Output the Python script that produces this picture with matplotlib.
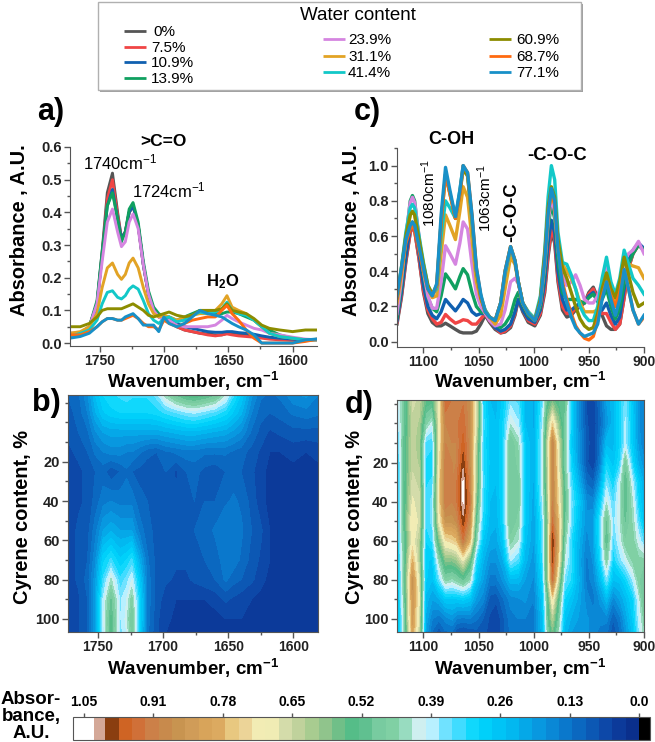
import numpy as np
import matplotlib
matplotlib.use('Agg')
import matplotlib.pyplot as plt
from matplotlib.colors import ListedColormap, BoundaryNorm
from matplotlib.patches import Rectangle
from matplotlib.ticker import MultipleLocator

plt.rcParams['font.family'] = ['Liberation Sans', 'DejaVu Sans']
plt.rcParams['mathtext.fontset'] = 'custom'
plt.rcParams['mathtext.rm'] = 'Liberation Sans'
plt.rcParams['mathtext.bf'] = 'Liberation Sans:bold'
plt.rcParams['mathtext.default'] = 'regular'

W, H = 655, 742

# legend
water = ['0%', '7.5%', '10.9%', '13.9%', '23.9%', '31.1%', '41.4%', '60.9%', '68.7%', '77.1%']
line_colors = ['#555555', '#f04545', '#1060b0', '#10a060', '#d585e0', '#e2a325', '#12c8c8',
               '#8c8c00', '#ff6a10', '#1890c8']

# panel a
a_wn = [1773, 1765, 1758, 1752, 1748, 1744, 1740, 1736, 1733, 1730, 1727, 1724,
        1720, 1716, 1712, 1708, 1704, 1700, 1696, 1690, 1684, 1678, 1672,
        1666, 1660, 1655, 1651, 1647, 1642, 1636, 1630, 1624, 1618, 1610, 1600, 1590, 1581]
a_0 = [.03, .03, .05, .12, .28, .46, .52, .40, .32, .34, .40, .42,
       .36, .24, .15, .10, .08, .08, .07, .05, .04, .035, .03,
       .028, .025, .025, .03, .03, .028, .025, .02, .018, .015, .012, .01, .01, .01]
a_7 = [.03, .025, .05, .12, .27, .44, .50, .39, .32, .34, .40, .42,
       .36, .24, .15, .10, .08, .08, .07, .05, .04, .035, .03,
       .025, .022, .025, .028, .025, .022, .02, .018, .015, .012, .01, .008, .008, .012]
a_10 = [.02, .025, .05, .12, .27, .42, .47, .38, .32, .34, .40, .42,
        .36, .24, .15, .10, .08, .08, .07, .06, .05, .045, .04,
        .035, .033, .033, .035, .035, .032, .03, .027, .022, .018, .015, .012, .01, .01]
a_13 = [.02, .03, .05, .13, .28, .42, .46, .38, .31, .34, .41, .43,
        .37, .25, .16, .11, .09, .08, .08, .07, .08, .09, .10,
        .095, .09, .09, .095, .095, .09, .08, .07, .05, .04, .025, .015, .01, .01]
a_23 = [.03, .03, .05, .12, .25, .37, .41, .34, .295, .31, .37, .395,
        .35, .24, .15, .10, .08, .07, .07, .055, .05, .05, .05,
        .05, .055, .07, .085, .075, .065, .055, .045, .04, .03, .025, .018, .012, .01]
a_31 = [.03, .035, .05, .09, .17, .23, .245, .21, .195, .21, .245, .26,
        .23, .17, .12, .09, .08, .085, .08, .07, .08, .085, .09,
        .09, .10, .12, .145, .11, .10, .09, .07, .05, .03, .02, .015, .01, .01]
a_41 = [.02, .03, .04, .07, .12, .155, .16, .14, .135, .145, .165, .175,
        .165, .13, .09, .07, .06, .075, .08, .065, .07, .085, .095,
        .09, .095, .105, .125, .10, .09, .085, .07, .05, .03, .02, .015, .01, .012]
a_60 = [.05, .05, .06, .08, .10, .105, .105, .105, .105, .11, .115, .12,
        .11, .10, .085, .08, .085, .09, .095, .085, .08, .085, .10,
        .10, .10, .105, .12, .10, .095, .09, .075, .055, .045, .04, .035, .04, .04]
a_68 = [.025, .025, .035, .05, .065, .075, .075, .07, .07, .075, .08, .085,
        .075, .06, .05, .05, .04, .07, .06, .05, .06, .07, .075,
        .08, .08, .10, .115, .09, .07, .04, .015, 0, 0, 0, 0, .005, .012]
a_77 = [.015, .02, .03, .05, .065, .075, .075, .07, .07, .08, .085, .09,
        .075, .055, .055, .055, .035, .08, .06, .05, .06, .08, .10,
        .09, .085, .08, .07, .06, .05, .04, .025, 0, 0, 0, 0, .01, .012]

# panel c
c_wn = [1124, 1120, 1116, 1112, 1110, 1108, 1104, 1100, 1096, 1092, 1088,
        1084, 1080, 1076, 1071, 1067, 1064, 1060, 1056, 1052, 1048, 1044,
        1040, 1035, 1030, 1026, 1021, 1017, 1014, 1010, 1005, 999,
        994, 990, 987, 984, 981, 978, 974, 970, 966, 962, 958,
        954, 950, 946, 942, 938, 934, 930, 926, 922, 918, 914, 910, 905, 900]
c_0 = [.10, .25, .45, .62, .65, .63, .47, .28, .16, .11, .09,
       .09, .105, .09, .07, .055, .05, .05, .05, .06, .10, .15,
       .11, .07, .05, .055, .08, .15, .24, .17, .11, .09,
       .15, .28, .48, .62, .56, .34, .18, .14, .15, .18, .20,
       .22, .28, .31, .25, .15, .09, .07, .07, .10, .25, .42, .50, .55, .52]
c_7 = [.11, .26, .46, .62, .65, .63, .47, .29, .18, .13, .10,
       .11, .155, .13, .105, .115, .125, .12, .10, .10, .13, .16,
       .12, .08, .05, .06, .09, .16, .24, .18, .12, .10,
       .16, .30, .50, .64, .58, .36, .20, .16, .16, .19, .21,
       .22, .27, .30, .24, .16, .16, .11, .07, .10, .25, .42, .50, .55, .52]
c_10 = [.12, .28, .48, .65, .68, .66, .50, .32, .20, .15, .13,
        .17, .24, .21, .175, .21, .24, .22, .17, .15, .16, .16,
        .13, .08, .06, .07, .10, .17, .24, .18, .13, .11,
        .18, .34, .56, .69, .62, .40, .24, .18, .18, .20, .22,
        .22, .26, .28, .23, .18, .22, .15, .10, .14, .30, .46, .52, .56, .53]
c_13 = [.14, .32, .58, .80, .83, .80, .58, .38, .25, .19, .17,
        .26, .385, .35, .30, .37, .415, .38, .28, .20, .17, .16,
        .14, .10, .08, .10, .15, .24, .28, .21, .15, .12,
        .20, .40, .65, .78, .70, .46, .28, .24, .24, .24, .23,
        .22, .25, .27, .23, .24, .30, .20, .13, .19, .33, .44, .50, .55, .52]
c_23 = [.16, .35, .60, .79, .82, .79, .60, .40, .26, .19, .19,
        .34, .545, .50, .44, .56, .68, .64, .44, .27, .20, .16,
        .12, .09, .10, .18, .34, .36, .33, .22, .16, .13,
        .22, .44, .68, .82, .74, .52, .38, .32, .34, .38, .32,
        .24, .22, .22, .26, .34, .44, .30, .20, .30, .46, .50, .52, .57, .50]
c_31 = [.22, .38, .58, .72, .74, .72, .58, .42, .30, .25, .26,
        .50, .72, .66, .58, .74, .88, .82, .58, .34, .24, .18,
        .14, .10, .15, .30, .48, .44, .34, .22, .17, .13,
        .24, .48, .72, .85, .78, .56, .44, .40, .36, .30, .22,
        .17, .17, .17, .18, .28, .39, .30, .23, .32, .48, .44, .43, .42, .36]
c_41 = [.25, .42, .62, .76, .78, .76, .60, .45, .32, .27, .30,
        .60, .80, .76, .70, .86, 1.0, .95, .68, .40, .26, .18,
        .14, .12, .22, .38, .53, .46, .34, .22, .17, .13,
        .26, .52, .82, 1.0, .92, .62, .45, .44, .38, .30, .20,
        .15, .12, .12, .20, .36, .48, .34, .27, .36, .52, .44, .36, .32, .27]
c_60 = [.25, .42, .60, .72, .74, .72, .58, .44, .32, .27, .32,
        .68, .95, .84, .70, .84, .98, .94, .70, .40, .25, .17,
        .14, .12, .22, .40, .54, .46, .34, .22, .16, .12,
        .24, .50, .76, .88, .82, .58, .42, .36, .28, .20, .13,
        .09, .07, .08, .16, .30, .39, .30, .25, .34, .48, .38, .28, .20, .22]
c_68 = [.25, .40, .56, .64, .66, .64, .52, .40, .30, .26, .32,
        .68, .95, .84, .70, .84, 1.0, .96, .72, .42, .26, .17,
        .14, .12, .22, .40, .54, .46, .34, .22, .16, .12,
        .22, .46, .72, .85, .78, .52, .34, .24, .16, .09, .05,
        .02, .01, .03, .12, .26, .34, .26, .20, .28, .41, .30, .18, .10, .14]
c_77 = [.26, .42, .58, .66, .68, .66, .54, .42, .30, .26, .33,
        .72, .99, .86, .71, .86, 1.0, .96, .72, .42, .27, .17,
        .14, .12, .22, .40, .54, .46, .34, .22, .16, .12,
        .22, .46, .72, .87, .80, .52, .32, .22, .14, .08, .05,
        .03, .04, .05, .10, .24, .34, .24, .15, .24, .41, .30, .18, .10, .15]

# panel b heat map
b_wn = [1773, 1765, 1758, 1752, 1746, 1740, 1733, 1728, 1724, 1718, 1712, 1705, 1698, 1690,
        1682, 1676, 1668, 1660, 1652, 1646, 1640, 1632, 1625, 1618, 1610, 1600, 1590, 1581]
b_cyr = [-14, -5, 5, 15, 25, 40, 55, 70, 80, 90, 100, 107]
b_z = [
    [.10, .12, .17, .25, .30, .32, .33, .34, .33, .33, .33, .36, .44, .50, .54, .55, .53, .50, .42, .33, .27, .18, .13, .12, .13, .17, .18, .15],
    [.09, .11, .15, .22, .27, .29, .30, .30, .30, .30, .30, .31, .33, .35, .37, .38, .36, .34, .31, .27, .23, .15, .11, .10, .11, .13, .14, .13],
    [.08, .10, .12, .17, .20, .21, .21, .21, .21, .21, .21, .21, .22, .23, .24, .24, .23, .22, .21, .19, .17, .12, .09, .07, .08, .09, .09, .09],
    [.07, .08, .10, .13, .15, .16, .16, .15, .15, .13, .11, .10, .12, .13, .14, .14, .13, .13, .13, .12, .11, .09, .07, .05, .05, .06, .05, .06],
    [.06, .07, .08, .10, .11, .08, .10, .12, .10, .09, .08, .08, .10, .07, .10, .11, .09, .08, .10, .11, .10, .08, .06, .04, .04, .04, .04, .04],
    [.06, .07, .08, .11, .14, .15, .14, .14, .14, .11, .10, .09, .09, .08, .09, .10, .10, .10, .12, .13, .12, .09, .06, .04, .04, .04, .04, .04],
    [.06, .08, .09, .14, .20, .22, .20, .20, .20, .14, .11, .09, .08, .08, .09, .10, .11, .13, .15, .15, .13, .10, .08, .05, .05, .04, .04, .04],
    [.06, .08, .10, .17, .29, .33, .28, .30, .33, .22, .13, .09, .08, .08, .08, .09, .10, .11, .14, .14, .12, .09, .07, .05, .04, .04, .04, .04],
    [.06, .08, .11, .19, .33, .43, .33, .36, .40, .27, .14, .09, .08, .07, .07, .08, .09, .10, .13, .11, .10, .08, .06, .04, .04, .04, .03, .03],
    [.05, .07, .10, .20, .38, .50, .37, .40, .46, .30, .14, .09, .06, .05, .05, .05, .05, .06, .08, .07, .06, .05, .04, .03, .03, .03, .03, .03],
    [.05, .07, .10, .20, .39, .53, .37, .41, .50, .30, .14, .08, .06, .04, .03, .03, .04, .04, .05, .05, .05, .04, .03, .03, .03, .03, .03, .03],
    [.05, .07, .10, .20, .38, .53, .36, .40, .48, .29, .13, .08, .05, .03, .03, .03, .03, .03, .04, .04, .04, .03, .03, .03, .03, .03, .03, .03],
]

# panel d heat map
d_wn = [1124, 1118, 1110, 1104, 1098, 1092, 1086, 1080, 1074, 1070, 1064, 1058, 1052, 1046, 1040, 1034, 1028,
        1021, 1014, 1008, 1000, 992, 987, 983, 978, 972, 966, 960, 952, 946, 940, 934, 928, 922, 917, 910, 905, 900]
d_cyr = [-12, 0, 10, 20, 30, 40, 50, 60, 70, 80, 90, 100, 107]
d_z = [
    [.38, .47, .66, .64, .55, .54, .68, .95, .92, .90, .92, .88, .66, .32, .25, .24, .28, .36, .34, .25, .22, .35, .52, .56, .52, .50, .30, .18, .07, .06, .12, .20, .24, .30, .36, .26, .18, .15],
    [.34, .48, .64, .62, .46, .40, .68, .90, .92, .92, .94, .88, .66, .34, .26, .25, .30, .42, .38, .25, .22, .38, .60, .74, .60, .48, .30, .18, .08, .05, .11, .18, .24, .30, .38, .27, .18, .15],
    [.30, .50, .64, .60, .34, .33, .68, .90, .90, .90, .96, .88, .62, .33, .26, .25, .30, .50, .44, .28, .22, .40, .66, .90, .68, .48, .28, .20, .09, .05, .13, .24, .24, .30, .38, .27, .19, .15],
    [.27, .50, .64, .62, .32, .31, .70, .92, .90, .90, .99, .88, .60, .33, .27, .25, .30, .50, .46, .28, .22, .40, .65, .90, .70, .46, .30, .20, .08, .05, .14, .30, .26, .32, .48, .30, .22, .18],
    [.27, .50, .66, .64, .32, .33, .72, .92, .90, .92, 1.025, .90, .60, .34, .26, .25, .30, .50, .48, .28, .22, .40, .64, .90, .72, .50, .34, .24, .12, .10, .20, .36, .30, .40, .52, .38, .28, .22],
    [.27, .50, .68, .66, .33, .36, .72, .92, .90, .92, 1.025, .92, .56, .33, .25, .24, .30, .50, .48, .28, .21, .38, .62, .90, .74, .52, .36, .28, .17, .16, .28, .42, .34, .42, .52, .42, .30, .24],
    [.27, .50, .72, .66, .33, .36, .68, .86, .86, .88, .99, .88, .50, .32, .24, .23, .30, .50, .46, .28, .20, .35, .60, .93, .78, .50, .36, .26, .18, .20, .34, .50, .36, .42, .50, .44, .34, .26],
    [.26, .48, .70, .62, .30, .33, .56, .72, .74, .76, .92, .78, .44, .27, .22, .21, .27, .46, .42, .26, .20, .34, .62, 1.0, .80, .46, .32, .24, .16, .20, .33, .52, .34, .40, .47, .46, .40, .34],
    [.25, .46, .78, .62, .28, .27, .44, .58, .58, .60, .68, .56, .32, .23, .18, .18, .22, .38, .34, .24, .18, .33, .62, .98, .76, .42, .33, .23, .14, .18, .30, .46, .30, .36, .40, .46, .46, .46],
    [.24, .46, .86, .66, .28, .25, .35, .46, .44, .46, .50, .44, .26, .20, .14, .14, .18, .24, .24, .20, .17, .30, .62, .93, .66, .36, .32, .24, .14, .16, .24, .36, .25, .26, .30, .38, .46, .50],
    [.23, .44, .84, .68, .24, .20, .22, .27, .27, .27, .28, .26, .19, .16, .09, .08, .12, .16, .17, .18, .15, .27, .52, .72, .54, .30, .26, .22, .16, .14, .18, .24, .16, .20, .24, .30, .40, .50],
    [.22, .42, .84, .66, .22, .15, .13, .16, .18, .15, .14, .15, .13, .10, .07, .05, .09, .14, .15, .15, .14, .25, .50, .62, .48, .26, .22, .20, .18, .16, .16, .16, .10, .14, .20, .28, .38, .46],
    [.22, .42, .80, .64, .20, .12, .08, .12, .12, .08, .07, .08, .09, .08, .07, .05, .09, .13, .15, .15, .14, .24, .46, .56, .44, .24, .20, .18, .18, .16, .14, .13, .08, .12, .18, .26, .36, .44],
]

# colour scale, low to high, 0.025 per step between 0 and 1
scale_colors = ['#0a2f8c', '#0c3a9a', '#0d48a8', '#0c58b4', '#0b68c0', '#0a78cc', '#0a88d6', '#0898e0',
                '#05a8e8', '#02b8f0', '#00c4f6', '#00d0fa', '#10d8fc', '#40dcff', '#70e2ff', '#b8f0ff',
                '#cfeff0', '#98dcc0', '#80d0a4', '#78cba0', '#60c090', '#55bd88', '#70bf88', '#90c48c',
                '#a8cc90', '#c0d29c', '#d4dcaa', '#f0ecb4', '#f2ecb4', '#ecd498', '#e8c880', '#dcaa60',
                '#d8a45a', '#d09c58', '#c89450', '#c88a4c', '#cc8048', '#d07038', '#cf6424', '#8a3e10']
cbar_ticks = [1.04, .91, .78, .65, .52, .39, .26, .13, 0]
cbar_labels = ['1.05', '0.91', '0.78', '0.65', '0.52', '0.39', '0.26', '0.13', '0.0']

levels = np.concatenate([[-0.0206], np.linspace(0, 1, len(scale_colors) + 1), [1.022, 1.0606]])
cmap = ListedColormap(['#000000'] + scale_colors + ['#d4a898', '#ffffff'])
norm = BoundaryNorm(levels, cmap.N)


def px_axes(left, top, right, bottom):
    return fig.add_axes([left / W, 1 - bottom / H, (right - left) / W, (bottom - top) / H])


def style_ticks(ax, xsize=10, ysize=10.5):
    for lab in ax.get_xticklabels():
        lab.set_fontweight('bold')
        lab.set_color('#222222')
        lab.set_fontsize(xsize)
    for lab in ax.get_yticklabels():
        lab.set_fontweight('bold')
        lab.set_color('#222222')
        lab.set_fontsize(ysize)
    ax.tick_params(which='major', length=4, width=1, color='#555555', pad=2)
    ax.tick_params(which='minor', length=2.5, width=1, color='#555555')
    for s in ax.spines.values():
        s.set_color('#555555')


fig = plt.figure(figsize=(W / 100, H / 100), dpi=100)

# overlay in pixel coordinates for the hand placed text
ov = fig.add_axes([0, 0, 1, 1], zorder=5)
ov.set_xlim(0, W)
ov.set_ylim(H, 0)
ov.axis('off')
ov.patch.set_alpha(0)

# line panels
ax_a = px_axes(70, 147, 317, 346)
for y, col in zip([a_0, a_7, a_10, a_13, a_23, a_31, a_41, a_60, a_68, a_77], line_colors):
    ax_a.plot(a_wn, y, color=col, lw=2.1)
ax_a.set_xlim(1773, 1581)
ax_a.set_ylim(-0.009, 0.6)
ax_a.xaxis.set_major_locator(MultipleLocator(50))
ax_a.xaxis.set_minor_locator(MultipleLocator(25))
ax_a.yaxis.set_major_locator(MultipleLocator(0.1))
ax_a.yaxis.set_minor_locator(MultipleLocator(0.05))
ax_a.spines[['top', 'right']].set_visible(False)
style_ticks(ax_a)

ax_c = px_axes(397, 148, 644, 347)
for y, col in zip([c_0, c_7, c_10, c_13, c_23, c_31, c_41, c_60, c_68, c_77], line_colors):
    ax_c.plot(c_wn, y, color=col, lw=2.4)
ax_c.set_xlim(1124, 900)
ax_c.set_ylim(-0.03, 1.1)
ax_c.xaxis.set_major_locator(MultipleLocator(50))
ax_c.xaxis.set_minor_locator(MultipleLocator(25))
ax_c.yaxis.set_major_locator(MultipleLocator(0.2))
ax_c.yaxis.set_minor_locator(MultipleLocator(0.1))
ax_c.spines[['top', 'right']].set_visible(False)
style_ticks(ax_c)

# heat maps
ax_b = px_axes(68, 395, 318, 632)
cs = ax_b.contourf(b_wn, b_cyr, np.array(b_z), levels=levels, cmap=cmap, norm=norm)
ax_b.set_xlim(1773, 1581)
ax_b.set_ylim(106.7, -14)

ax_d = px_axes(397, 400, 644, 632)
ax_d.contourf(d_wn, d_cyr, np.array(d_z), levels=levels, cmap=cmap, norm=norm)
ax_d.set_xlim(1124, 900)
ax_d.set_ylim(106.7, -12)

for ax in (ax_b, ax_d):
    ax.xaxis.set_major_locator(MultipleLocator(50))
    ax.xaxis.set_minor_locator(MultipleLocator(25))
    ax.set_yticks([20, 40, 60, 80, 100])
    ax.yaxis.set_minor_locator(MultipleLocator(10))
    style_ticks(ax)

# colour bar
cax = px_axes(73, 717, 650, 740)
cb = fig.colorbar(cs, cax=cax, orientation='horizontal', spacing='proportional', drawedges=False)
cb.set_ticks(cbar_ticks)
cb.set_ticklabels(cbar_labels)
cax.set_xlim(1.0606, -0.0206)
cax.xaxis.set_ticks_position('top')
cax.tick_params(length=3, width=1, color='#555555', pad=3)
for lab in cax.get_xticklabels():
    lab.set_fontweight('bold')
    lab.set_fontsize(10)
cb.outline.set_edgecolor('#555555')
cb.minorticks_off()

# legend box
ov.add_patch(Rectangle((100, 4), 483, 88, fc='#a0a0a0', ec='none'))
ov.add_patch(Rectangle((98, 2), 483, 88, fc='white', ec='#b0b0b0', lw=1, zorder=2))
ov.text(358, 15, 'Water content', ha='center', va='center', fontsize=13.5, zorder=3)
legend_pos = [(124, 32), (124, 48), (124, 63), (124, 79), (323, 40), (323, 57), (323, 73),
              (489, 40), (489, 57), (489, 73)]
for lab, col, (lx, ly) in zip(water, line_colors, legend_pos):
    ov.plot([lx, lx + 22], [ly - 1, ly - 1], color=col, lw=2, zorder=3, solid_capstyle='butt')
    tx = lx + 25 if lx == 323 else lx + 27
    if lab == '0%':
        tx = lx + 29
    ov.text(tx, ly, lab, ha='left', va='center', fontsize=11, zorder=3)

# panel letters
for lab, lx, ly in [('a)', 37, 112), ('b)', 32, 403), ('c)', 354, 112), ('d)', 345, 405)]:
    ov.text(lx, ly, lab, ha='left', va='center', fontsize=22, fontweight='bold', zorder=6)

# axis titles
bold_wn = r'Wavenumber, cm$^{\mathbf{-1}}$'
for cx, cy in [(193, 381), (520, 381), (193, 668), (520, 668)]:
    ov.text(cx, cy, bold_wn, ha='center', va='center', fontsize=13.5, fontweight='bold')
for cx, cy, lab in [(20, 230, 'Absorbance , A.U.'), (352, 230, 'Absorbance , A.U.'),
                    (23, 517, 'Cyrene content, %'), (355, 517, 'Cyrene content, %')]:
    ov.text(cx, cy, lab, ha='center', va='center', rotation=90, fontsize=14.4, fontweight='bold')

# peak labels
ov.text(163, 141, '>C=O', ha='center', va='center', fontsize=12.5, fontweight='bold')
ov.text(120, 162, '1740cm$^{-1}$', ha='center', va='center', fontsize=12)
ov.text(169, 190, '1724cm$^{-1}$', ha='center', va='center', fontsize=12)
ov.text(223, 282, r'H$_{\mathbf{2}}$O', ha='center', va='center', fontsize=12, fontweight='bold')
ov.text(451, 140, 'C-OH', ha='center', va='center', fontsize=13, fontweight='bold')
ov.text(557, 155, '-C-O-C', ha='center', va='center', fontsize=13.3, fontweight='bold')
ov.text(512, 212, '-C-O-C', ha='center', va='center', rotation=90, fontsize=13.3, fontweight='bold')
ov.text(429, 193, '1080cm$^{-1}$', ha='center', va='center', rotation=90, fontsize=11)
ov.text(485, 198, '1063cm$^{-1}$', ha='center', va='center', rotation=90, fontsize=11)

# colour bar title
for lab, ly in [('Absor-', 700), ('bance,', 717), ('A.U.', 733)]:
    ov.text(31, ly, lab, ha='center', va='center', fontsize=13.5, fontweight='bold')

fig.savefig('out.png', dpi=100)
